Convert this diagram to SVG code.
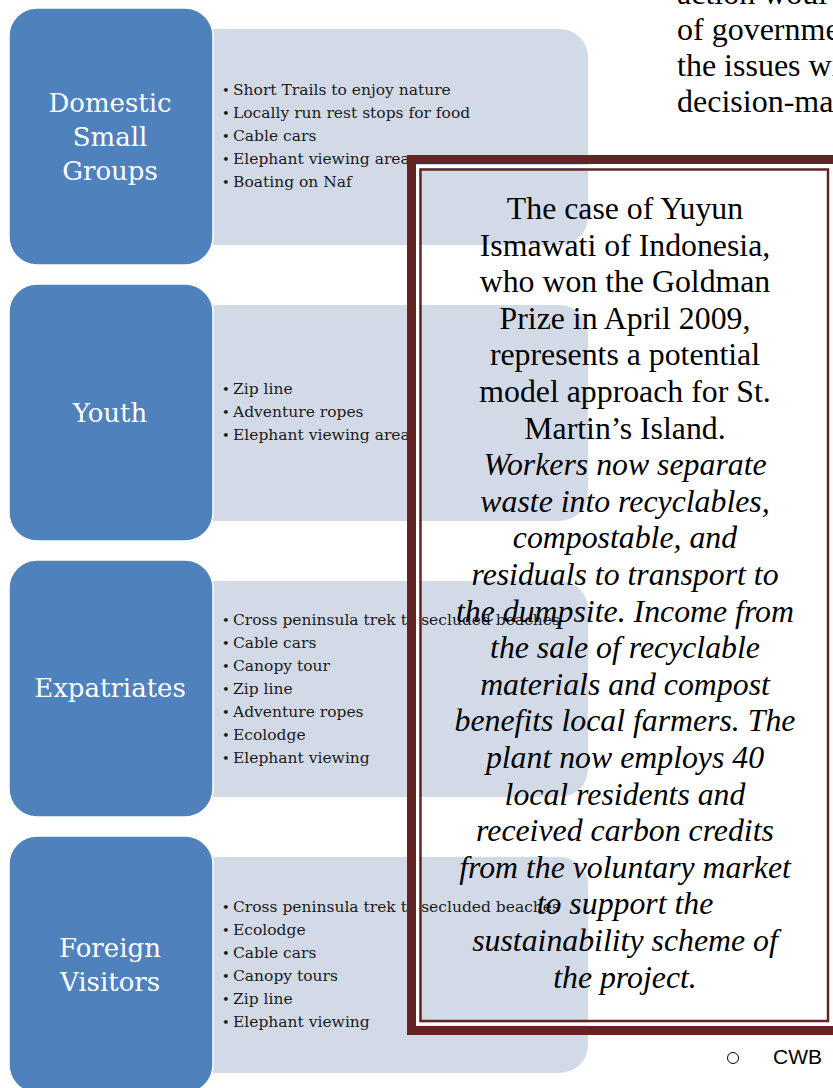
<svg xmlns="http://www.w3.org/2000/svg" width="833" height="1088" viewBox="0 0 833 1088">
<style>
.blue{fill:#4F81BD;stroke:#FFFFFF;stroke-width:1.5}
.light{fill:#D3DAE7}
.ttl{font-family:"DejaVu Serif",serif;font-size:26px;fill:#FFFFFF;text-anchor:middle}
.li{font-family:"DejaVu Serif",serif;font-size:15.5px;fill:#1A1A1A}
.bul{font-family:"DejaVu Serif",serif;font-size:13px;fill:#1A1A1A}
.frm{fill:none;stroke:#632523}
.ft{font-family:"Liberation Serif","Times New Roman",serif;font-size:31.8px;fill:#000;text-anchor:middle}
.it{font-style:italic}
.side{font-family:"Liberation Serif","Times New Roman",serif;font-size:32px;fill:#000}
.cwb{font-family:"Liberation Sans",Arial,sans-serif;font-size:21px;fill:#000}
</style>
<rect width="833" height="1088" fill="#FFFFFF"/>

<g id="connectors"></g>

<g id="list-domestic">
<path class="light" d="M213,29 H560 A28,28 0 0 1 588,57 V217 A28,28 0 0 1 560,245 H213 Z"/>
<text class="bul" x="222" y="95">•</text><text class="li" x="233" y="95">Short Trails to enjoy nature</text>
<text class="bul" x="222" y="118">•</text><text class="li" x="233" y="118">Locally run rest stops for food</text>
<text class="bul" x="222" y="141">•</text><text class="li" x="233" y="141">Cable cars</text>
<text class="bul" x="222" y="164">•</text><text class="li" x="233" y="164">Elephant viewing area</text>
<text class="bul" x="222" y="187">•</text><text class="li" x="233" y="187">Boating on Naf</text>
</g>
<g id="node-domestic">
<rect class="blue" x="9" y="8" width="204" height="257" rx="28"/>
<text class="ttl" x="110" y="112">Domestic</text>
<text class="ttl" x="110" y="146">Small</text>
<text class="ttl" x="110" y="180">Groups</text>
</g>

<g id="list-youth">
<path class="light" d="M213,305 H560 A28,28 0 0 1 588,333 V493 A28,28 0 0 1 560,521 H213 Z"/>
<text class="bul" x="222" y="394">•</text><text class="li" x="233" y="394">Zip line</text>
<text class="bul" x="222" y="417">•</text><text class="li" x="233" y="417">Adventure ropes</text>
<text class="bul" x="222" y="440">•</text><text class="li" x="233" y="440">Elephant viewing area</text>
</g>
<g id="node-youth">
<rect class="blue" x="9" y="284" width="204" height="257" rx="28"/>
<text class="ttl" x="110" y="422">Youth</text>
</g>

<g id="list-expatriates">
<path class="light" d="M213,581 H560 A28,28 0 0 1 588,609 V769 A28,28 0 0 1 560,797 H213 Z"/>
<text class="bul" x="222" y="624.5">•</text><text class="li" x="233" y="624.5">Cross peninsula trek to secluded beaches</text>
<text class="bul" x="222" y="647.5">•</text><text class="li" x="233" y="647.5">Cable cars</text>
<text class="bul" x="222" y="670.5">•</text><text class="li" x="233" y="670.5">Canopy tour</text>
<text class="bul" x="222" y="693.5">•</text><text class="li" x="233" y="693.5">Zip line</text>
<text class="bul" x="222" y="716.5">•</text><text class="li" x="233" y="716.5">Adventure ropes</text>
<text class="bul" x="222" y="739.5">•</text><text class="li" x="233" y="739.5">Ecolodge</text>
<text class="bul" x="222" y="762.5">•</text><text class="li" x="233" y="762.5">Elephant viewing</text>
</g>
<g id="node-expatriates">
<rect class="blue" x="9" y="560" width="204" height="257" rx="28"/>
<text class="ttl" x="110" y="697">Expatriates</text>
</g>

<g id="list-foreign">
<path class="light" d="M213,857 H560 A28,28 0 0 1 588,885 V1045 A28,28 0 0 1 560,1073 H213 Z"/>
<text class="bul" x="222" y="912">•</text><text class="li" x="233" y="912">Cross peninsula trek to secluded beaches</text>
<text class="bul" x="222" y="935">•</text><text class="li" x="233" y="935">Ecolodge</text>
<text class="bul" x="222" y="958">•</text><text class="li" x="233" y="958">Cable cars</text>
<text class="bul" x="222" y="981">•</text><text class="li" x="233" y="981">Canopy tours</text>
<text class="bul" x="222" y="1004">•</text><text class="li" x="233" y="1004">Zip line</text>
<text class="bul" x="222" y="1027">•</text><text class="li" x="233" y="1027">Elephant viewing</text>
</g>
<g id="node-foreign">
<rect class="blue" x="9" y="836" width="204" height="257" rx="28"/>
<text class="ttl" x="110" y="956.5">Foreign</text>
<text class="ttl" x="110" y="990.5">Visitors</text>
</g>

<g id="case-box">
<rect class="frm" x="411.5" y="159.5" width="440" height="871" stroke-width="9"/>
<rect x="417.5" y="166.5" width="413" height="857.5" fill="none" stroke="#FFFFFF" stroke-width="3"/>
<rect class="frm" x="420.5" y="169.5" width="407.5" height="851.5" stroke-width="2.5"/>
<text class="ft" x="625" y="219">The case of Yuyun</text>
<text class="ft" x="625" y="255.6">Ismawati of Indonesia,</text>
<text class="ft" x="625" y="292.2">who won the Goldman</text>
<text class="ft" x="625" y="328.8">Prize in April 2009,</text>
<text class="ft" x="625" y="365.4">represents a potential</text>
<text class="ft" x="625" y="402">model approach for St.</text>
<text class="ft" x="625" y="438.6">Martin’s Island.</text>
<text class="ft it" x="625" y="475.2">Workers now separate</text>
<text class="ft it" x="625" y="511.8">waste into recyclables,</text>
<text class="ft it" x="625" y="548.4">compostable, and</text>
<text class="ft it" x="625" y="585">residuals to transport to</text>
<text class="ft it" x="625" y="621.6">the dumpsite. Income from</text>
<text class="ft it" x="625" y="658.2">the sale of recyclable</text>
<text class="ft it" x="625" y="694.8">materials and compost</text>
<text class="ft it" x="625" y="731.4">benefits local farmers. The</text>
<text class="ft it" x="625" y="768">plant now employs 40</text>
<text class="ft it" x="625" y="804.6">local residents and</text>
<text class="ft it" x="625" y="841.2">received carbon credits</text>
<text class="ft it" x="625" y="877.8">from the voluntary market</text>
<text class="ft it" x="625" y="914.4">to support the</text>
<text class="ft it" x="625" y="951">sustainability scheme of</text>
<text class="ft it" x="625" y="987.6">the project.</text>
</g>

<g id="side-text">
<text class="side" x="677" y="4">action woul</text>
<text class="side" x="677" y="40">of governme</text>
<text class="side" x="677" y="76">the issues wi</text>
<text class="side" x="677" y="112">decision-mak</text>
</g>

<g id="cwb">
<circle cx="733" cy="1058" r="5.5" fill="none" stroke="#000" stroke-width="1"/>
<text class="cwb" x="773" y="1064">CWB</text>
</g>
</svg>
